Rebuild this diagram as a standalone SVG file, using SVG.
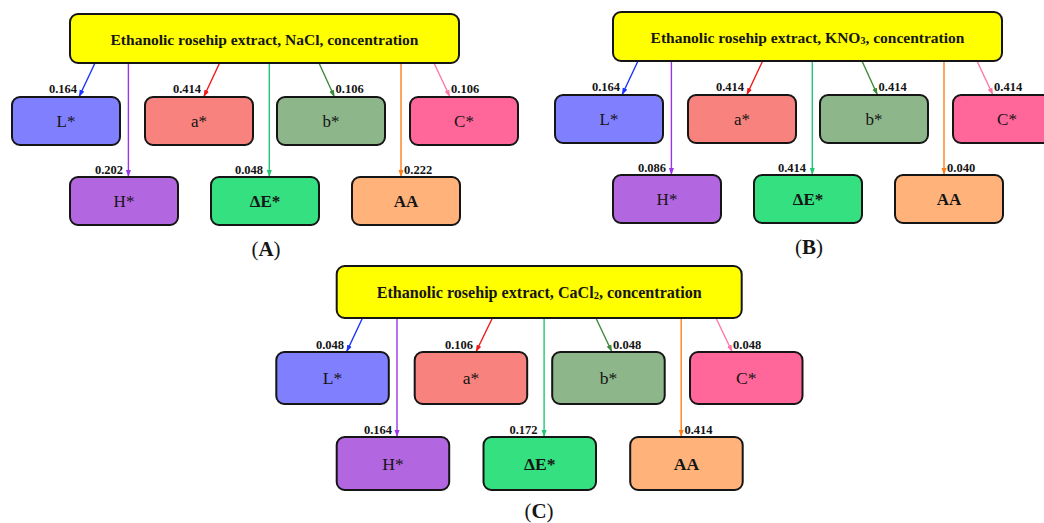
<svg xmlns="http://www.w3.org/2000/svg" width="1044" height="523" viewBox="0 0 1044 523">
<style>
.t{font-family:"Liberation Serif","Times New Roman",serif;fill:#151515}
.box{stroke:#151515;stroke-width:2}
.hdr{fill:#ffff00}
.ht{font-size:15.5px;font-weight:bold}
.nt{font-size:17px}
.nc{font-size:17.6px}
.bd{font-weight:bold}
.lbl{font-size:12.5px;font-weight:bold}
.cap{font-size:21px}
.e{fill:none;stroke-width:1.4}
.cL{fill:#8080ff}.ca{fill:#f8827d}.cb{fill:#8db68a}.cC{fill:#ff6699}.cH{fill:#b266e0}.cE{fill:#34e080}.cA{fill:#ffb37b}
</style>
<defs>
<marker id="mL" markerUnits="userSpaceOnUse" markerWidth="7" markerHeight="6" refX="7" refY="3" orient="auto"><path d="M0,0.5 L7,3 L0,5.5 z" fill="#1a33ff"/></marker>
<marker id="ma" markerUnits="userSpaceOnUse" markerWidth="7" markerHeight="6" refX="7" refY="3" orient="auto"><path d="M0,0.5 L7,3 L0,5.5 z" fill="#f01818"/></marker>
<marker id="mb" markerUnits="userSpaceOnUse" markerWidth="7" markerHeight="6" refX="7" refY="3" orient="auto"><path d="M0,0.5 L7,3 L0,5.5 z" fill="#3d8a3a"/></marker>
<marker id="mC" markerUnits="userSpaceOnUse" markerWidth="7" markerHeight="6" refX="7" refY="3" orient="auto"><path d="M0,0.5 L7,3 L0,5.5 z" fill="#ff77aa"/></marker>
<marker id="mH" markerUnits="userSpaceOnUse" markerWidth="7" markerHeight="6" refX="7" refY="3" orient="auto"><path d="M0,0.5 L7,3 L0,5.5 z" fill="#9a35ea"/></marker>
<marker id="mE" markerUnits="userSpaceOnUse" markerWidth="7" markerHeight="6" refX="7" refY="3" orient="auto"><path d="M0,0.5 L7,3 L0,5.5 z" fill="#1dc774"/></marker>
<marker id="mA" markerUnits="userSpaceOnUse" markerWidth="7" markerHeight="6" refX="7" refY="3" orient="auto"><path d="M0,0.5 L7,3 L0,5.5 z" fill="#ff7f1a"/></marker>
</defs>
<rect width="1044" height="523" fill="#ffffff"/>

<!-- Panel A -->
<g id="panelA">
<g id="A-connectors">
<path class="e" stroke="#1a33ff" marker-end="url(#mL)" d="M95,63 L79,97"/>
<path class="e" stroke="#f01818" marker-end="url(#ma)" d="M219.6,63 L203.7,97"/>
<path class="e" stroke="#3d8a3a" marker-end="url(#mb)" d="M319,63 L334.5,97"/>
<path class="e" stroke="#ff77aa" marker-end="url(#mC)" d="M434,63 L450,97"/>
<path class="e" stroke="#9a35ea" marker-end="url(#mH)" d="M128.4,63 L128.4,177"/>
<path class="e" stroke="#1dc774" marker-end="url(#mE)" d="M269.3,63 L269.3,177"/>
<path class="e" stroke="#ff7f1a" marker-end="url(#mA)" d="M401,63 L401,177"/>
<text class="t lbl" x="77" y="93" text-anchor="end">0.164</text>
<text class="t lbl" x="201" y="93" text-anchor="end">0.414</text>
<text class="t lbl" x="335.5" y="93">0.106</text>
<text class="t lbl" x="451" y="93">0.106</text>
<text class="t lbl" x="123" y="174" text-anchor="end">0.202</text>
<text class="t lbl" x="263" y="174" text-anchor="end">0.048</text>
<text class="t lbl" x="404" y="174">0.222</text>
</g>
<g id="A-header"><rect class="box hdr" x="70" y="14" width="389" height="49" rx="8"/><text class="t ht" x="264.5" y="45" text-anchor="middle">Ethanolic rosehip extract, NaCl, concentration</text></g>
<g id="A-L"><rect class="box cL" x="12" y="97" width="108" height="48" rx="8"/><text class="t nt" x="66" y="127" text-anchor="middle">L*</text></g>
<g id="A-a"><rect class="box ca" x="145" y="97" width="108" height="48" rx="8"/><text class="t nt" x="199" y="127" text-anchor="middle">a*</text></g>
<g id="A-b"><rect class="box cb" x="277" y="97" width="108" height="48" rx="8"/><text class="t nt" x="331" y="127" text-anchor="middle">b*</text></g>
<g id="A-C"><rect class="box cC" x="410" y="97" width="108" height="48" rx="8"/><text class="t nt" x="464" y="127" text-anchor="middle">C*</text></g>
<g id="A-H"><rect class="box cH" x="70" y="177" width="108" height="48" rx="8"/><text class="t nt" x="124" y="207" text-anchor="middle">H*</text></g>
<g id="A-E"><rect class="box cE" x="211" y="177" width="108" height="48" rx="8"/><text class="t nt bd" x="265" y="207" text-anchor="middle">ΔE*</text></g>
<g id="A-AA"><rect class="box cA" x="352" y="177" width="108" height="48" rx="8"/><text class="t nt bd" x="406" y="207" text-anchor="middle">AA</text></g>
<text class="t cap" x="266" y="256" text-anchor="middle">(<tspan class="bd">A</tspan>)</text>
</g>

<!-- Panel B -->
<g id="panelB" transform="translate(543,-2)">
<g id="B-connectors">
<path class="e" stroke="#1a33ff" marker-end="url(#mL)" d="M95,63 L79,97"/>
<path class="e" stroke="#f01818" marker-end="url(#ma)" d="M219.6,63 L203.7,97"/>
<path class="e" stroke="#3d8a3a" marker-end="url(#mb)" d="M319,63 L334.5,97"/>
<path class="e" stroke="#ff77aa" marker-end="url(#mC)" d="M434,63 L450,97"/>
<path class="e" stroke="#9a35ea" marker-end="url(#mH)" d="M128.4,63 L128.4,177"/>
<path class="e" stroke="#1dc774" marker-end="url(#mE)" d="M269.3,63 L269.3,177"/>
<path class="e" stroke="#ff7f1a" marker-end="url(#mA)" d="M401,63 L401,177"/>
<text class="t lbl" x="77" y="93" text-anchor="end">0.164</text>
<text class="t lbl" x="201" y="93" text-anchor="end">0.414</text>
<text class="t lbl" x="335.5" y="93">0.414</text>
<text class="t lbl" x="451" y="93">0.414</text>
<text class="t lbl" x="123" y="174" text-anchor="end">0.086</text>
<text class="t lbl" x="263" y="174" text-anchor="end">0.414</text>
<text class="t lbl" x="404" y="174">0.040</text>
</g>
<g id="B-header"><rect class="box hdr" x="70" y="14" width="389" height="49" rx="8"/><text class="t ht" x="264.5" y="45" text-anchor="middle">Ethanolic rosehip extract, KNO<tspan font-size="10" dy="1">3</tspan><tspan dy="-1">, concentration</tspan></text></g>
<g id="B-L"><rect class="box cL" x="12" y="97" width="108" height="48" rx="8"/><text class="t nt" x="66" y="127" text-anchor="middle">L*</text></g>
<g id="B-a"><rect class="box ca" x="145" y="97" width="108" height="48" rx="8"/><text class="t nt" x="199" y="127" text-anchor="middle">a*</text></g>
<g id="B-b"><rect class="box cb" x="277" y="97" width="108" height="48" rx="8"/><text class="t nt" x="331" y="127" text-anchor="middle">b*</text></g>
<g id="B-C"><rect class="box cC" x="410" y="97" width="108" height="48" rx="8"/><text class="t nt" x="464" y="127" text-anchor="middle">C*</text></g>
<g id="B-H"><rect class="box cH" x="70" y="177" width="108" height="48" rx="8"/><text class="t nt" x="124" y="207" text-anchor="middle">H*</text></g>
<g id="B-E"><rect class="box cE" x="211" y="177" width="108" height="48" rx="8"/><text class="t nt bd" x="265" y="207" text-anchor="middle">ΔE*</text></g>
<g id="B-AA"><rect class="box cA" x="352" y="177" width="108" height="48" rx="8"/><text class="t nt bd" x="406" y="207" text-anchor="middle">AA</text></g>
<text class="t cap" x="266" y="256" text-anchor="middle">(<tspan class="bd">B</tspan>)</text>
</g>

<!-- Panel C -->
<g id="panelC">
<g id="C-connectors">
<path class="e" stroke="#1a33ff" marker-end="url(#mL)" d="M362.5,318 L346.5,352"/>
<path class="e" stroke="#f01818" marker-end="url(#ma)" d="M492.4,318 L475.9,352"/>
<path class="e" stroke="#3d8a3a" marker-end="url(#mb)" d="M595.9,318 L612,352"/>
<path class="e" stroke="#ff77aa" marker-end="url(#mC)" d="M716,318 L732.3,352"/>
<path class="e" stroke="#9a35ea" marker-end="url(#mH)" d="M397,318 L397,437"/>
<path class="e" stroke="#1dc774" marker-end="url(#mE)" d="M544.1,318 L544.1,437"/>
<path class="e" stroke="#ff7f1a" marker-end="url(#mA)" d="M681.2,318 L681.2,437"/>
<text class="t lbl" x="344" y="348.5" text-anchor="end" font-size="13">0.048</text>
<text class="t lbl" x="473" y="348.5" text-anchor="end" font-size="13">0.106</text>
<text class="t lbl" x="613" y="348.5" font-size="13">0.048</text>
<text class="t lbl" x="733" y="348.5" font-size="13">0.048</text>
<text class="t lbl" x="392" y="434" text-anchor="end" font-size="13">0.164</text>
<text class="t lbl" x="537.6" y="434" text-anchor="end" font-size="13">0.172</text>
<text class="t lbl" x="684.4" y="434" font-size="13">0.414</text>
</g>
<g id="C-header"><rect class="box hdr" x="336.7" y="266" width="405" height="52" rx="8"/><text class="t ht" x="539.2" y="297.5" text-anchor="middle" style="font-size:16.1px">Ethanolic rosehip extract, CaCl<tspan font-size="10.5" dy="1">2</tspan><tspan dy="-1">, concentration</tspan></text></g>
<g id="C-L"><rect class="box cL" x="276.3" y="352" width="112.5" height="52" rx="8"/><text class="t nc" x="332.5" y="384" text-anchor="middle">L*</text></g>
<g id="C-a"><rect class="box ca" x="414.7" y="352" width="112.5" height="52" rx="8"/><text class="t nc" x="471" y="384" text-anchor="middle">a*</text></g>
<g id="C-b"><rect class="box cb" x="552.2" y="352" width="112.5" height="52" rx="8"/><text class="t nc" x="608.5" y="384" text-anchor="middle">b*</text></g>
<g id="C-C"><rect class="box cC" x="690" y="352" width="112.5" height="52" rx="8"/><text class="t nc" x="746.3" y="384" text-anchor="middle">C*</text></g>
<g id="C-H"><rect class="box cH" x="336.7" y="437" width="112.5" height="53" rx="8"/><text class="t nc" x="393" y="469.5" text-anchor="middle">H*</text></g>
<g id="C-E"><rect class="box cE" x="483.5" y="437" width="112.5" height="53" rx="8"/><text class="t nc bd" x="539.8" y="469.5" text-anchor="middle">ΔE*</text></g>
<g id="C-AA"><rect class="box cA" x="630.2" y="437" width="112.5" height="53" rx="8"/><text class="t nc bd" x="686.5" y="469.5" text-anchor="middle">AA</text></g>
<text class="t cap" x="539" y="518" text-anchor="middle">(<tspan class="bd">C</tspan>)</text>
</g>
</svg>
